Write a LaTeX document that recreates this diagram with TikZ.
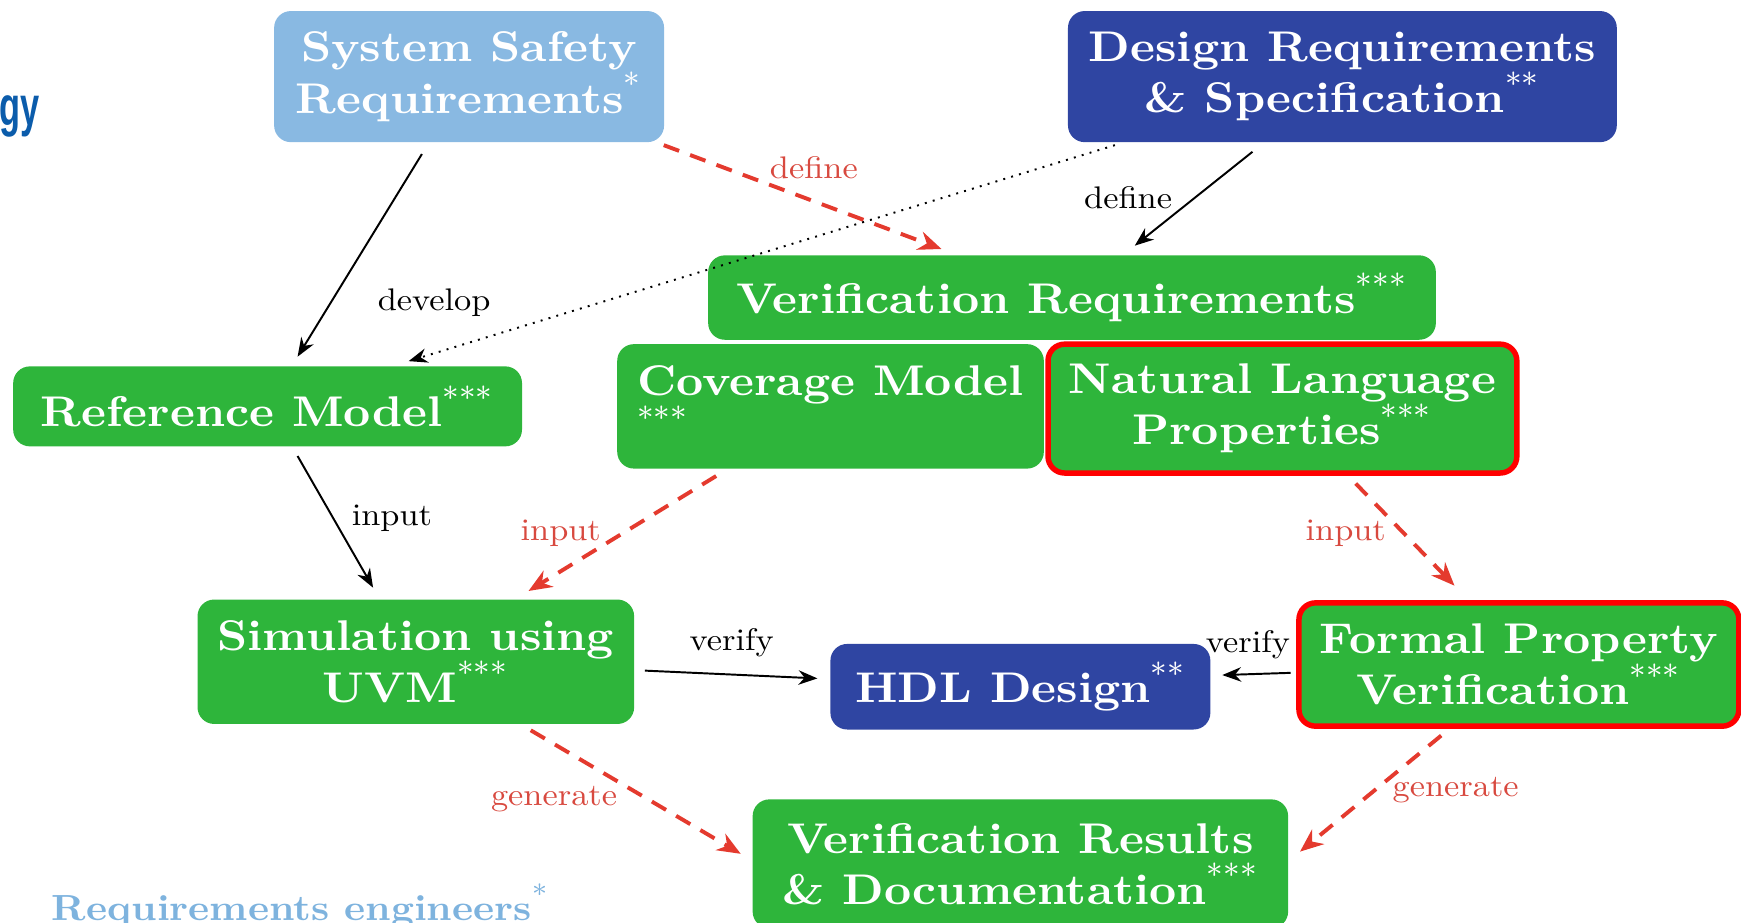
\documentclass[tikz,border=0pt]{standalone}
\usepackage{fontspec}
\setmainfont{lmroman10-regular.otf}[BoldFont=lmroman10-bold.otf,FakeStretch=1.1]
\newfontfamily\headfont{Liberation Sans}[FakeStretch=0.62]
\usetikzlibrary{arrows.meta}

\definecolor{safetyblue}{HTML}{89B9E2}
\definecolor{designblue}{HTML}{2F45A2}
\definecolor{flowgreen}{HTML}{2EB53B}
\definecolor{arrowred}{HTML}{E43A2E}
\definecolor{labelred}{HTML}{D8493F}
\definecolor{titleblue}{HTML}{0B5CAB}
\definecolor{engblue}{HTML}{7EB3DE}

% role marks after a box title
\newcommand{\rolemark}[1]{\raisebox{0.25em}{$^{#1}$}}

\tikzset{
  reqbox/.style={rounded corners=0.15cm, text=white, align=center, inner sep=0pt,
    font=\fontsize{11}{13.1}\selectfont\bfseries},
  redframe/.style={draw=red, line width=1.4pt},
  edgelbl/.style={inner sep=0pt, font=\fontsize{8}{9}\selectfont},
  arrblack/.style={-{Stealth[length=1.7mm,width=1.3mm]}, line width=0.5pt},
  arrred/.style={-{Stealth[length=2.1mm,width=1.7mm]}, arrowred, line width=1pt,
    dash pattern=on 4.2pt off 3pt},
  arrdot/.style={-{Stealth[length=1.7mm,width=1.3mm]}, line width=0.5pt,
    dash pattern=on 0.5pt off 1.6pt}
}

\begin{document}
\begin{tikzpicture}[x=0.01cm,y=-0.01cm]
\useasboundingbox (0,0) rectangle (1568,831);

% slide leftovers
\node[anchor=base east, inner sep=0pt, text=titleblue, font=\headfont\bfseries\fontsize{14.2}{16}\selectfont] (title) at (36,113) {gy};
\node[anchor=base west, inner sep=0pt, text=engblue, font=\fontsize{9.3}{11}\selectfont\bfseries] (engineers) at (46,829) {Requirements engineers\rolemark{*}};

% requirement sources
\node[reqbox, fill=safetyblue, minimum width=3.51cm, minimum height=1.18cm] (ssr) at (422.5,69) {System Safety\\Requirements\rolemark{*}};
\node[reqbox, fill=designblue, minimum width=4.94cm, minimum height=1.18cm] (drs) at (1209,69) {Design Requirements\\\& Specification\rolemark{**}};

% verification plan
\node[reqbox, fill=flowgreen, minimum width=6.55cm, minimum height=0.76cm] (vr) at (965.5,268) {Verification Requirements\rolemark{***}};
\node[reqbox, fill=flowgreen, minimum width=4.58cm, minimum height=0.72cm] (rm) at (241,366) {Reference Model\rolemark{***}};
\node[reqbox, fill=flowgreen, align=left, minimum width=3.84cm, minimum height=1.12cm] (cov) at (748,366) {Coverage Model\\\rolemark{***}};
\node[reqbox, redframe, fill=flowgreen, minimum width=4.22cm, minimum height=1.16cm] (nlp) at (1155,368) {Natural Language\\Properties\rolemark{***}};

% verification runs
\node[reqbox, fill=flowgreen, minimum width=3.93cm, minimum height=1.12cm] (sim) at (374.5,596) {Simulation using\\UVM\rolemark{***}};
\node[reqbox, fill=designblue, minimum width=3.42cm, minimum height=0.77cm] (hdl) at (919,618.5) {HDL Design\rolemark{**}};
\node[reqbox, redframe, fill=flowgreen, minimum width=3.96cm, minimum height=1.11cm] (fpv) at (1368,598.5) {Formal Property\\Verification\rolemark{***}};
\node[reqbox, fill=flowgreen, minimum width=4.82cm, minimum height=1.16cm] (vrd) at (919,778) {Verification Results\\\& Documentation\rolemark{***}};

% connectors
\draw[arrblack] ([shift={(-42.5,10)}]ssr.south) -- ([shift={(27,-8)}]rm.north);
\draw[arrred] ([shift={(-1,2)}]ssr.south east) -- ([shift={(-117.5,-5)}]vr.north);
\draw[arrdot] ([shift={(43,2)}]drs.south west) -- ([shift={(127,-4)}]rm.north);
\draw[arrblack] ([shift={(-81,8)}]drs.south) -- ([shift={(56.5,-8)}]vr.north);
\draw[arrblack] ([shift={(27,8)}]rm.south) -- ([shift={(-38.5,-10)}]sim.north);
\draw[arrred] ([shift={(-103,6)}]cov.south) -- ([shift={(101.5,-7)}]sim.north);
\draw[arrred] ([shift={(66,7)}]nlp.south) -- ([shift={(-58,-13)}]fpv.north);
\draw[arrblack] ([shift={(9,8)}]sim.east) -- ([shift={(-11,-7.5)}]hdl.west);
\draw[arrblack] ([shift={(-5,7.5)}]fpv.west) -- ([shift={(10,-10.5)}]hdl.east);
\draw[arrred] ([shift={(103.5,5)}]sim.south) -- ([shift={(-10,-9)}]vrd.west);
\draw[arrred] ([shift={(-70,6)}]fpv.south) -- ([shift={(10,-11)}]vrd.east);

% connector labels
\node[edgelbl] (ldevelop) at (391,273) {develop};
\node[edgelbl, text=labelred] (ldefinered) at (733,151) {define};
\node[edgelbl] (ldefine) at (1016,178) {define};
\node[edgelbl] (linput) at (353,467) {input};
\node[edgelbl, text=labelred] (linputcov) at (505,480) {input};
\node[edgelbl, text=labelred] (linputnlp) at (1212,480) {input};
\node[edgelbl] (lverifysim) at (659,579) {verify};
\node[edgelbl] (lverifyfpv) at (1124,581) {verify};
\node[edgelbl, text=labelred] (lgensim) at (499,720) {generate};
\node[edgelbl, text=labelred] (lgenfpv) at (1311,712) {generate};
\end{tikzpicture}
\end{document}
